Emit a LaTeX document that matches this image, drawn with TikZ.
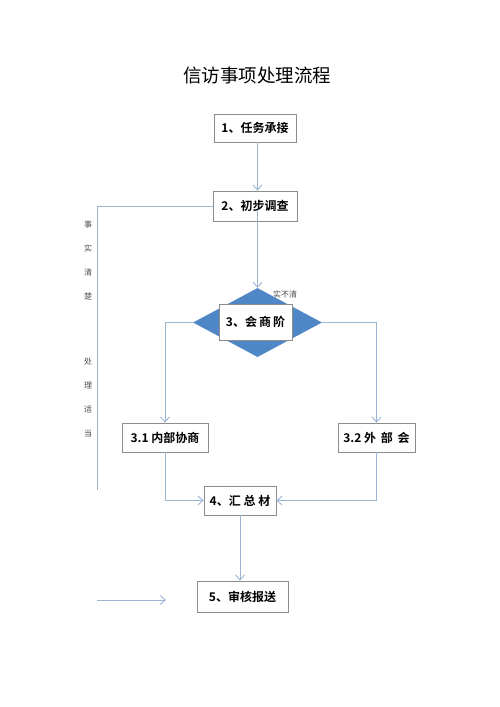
\documentclass[tikz,border=0pt]{standalone}
\usepackage{fontspec}
\setmainfont{Noto Sans CJK SC}[BoldFont={Noto Sans CJK SC Bold}]
\usetikzlibrary{arrows.meta,shapes.geometric}
\definecolor{lineblue}{HTML}{9CB6D2}
\definecolor{diablue}{HTML}{4E86C6}
\definecolor{boxgray}{HTML}{8C8C8C}
\tikzset{
  stepbox/.style={draw=boxgray, line width=0.8pt, fill=white, inner sep=0pt,
    font=\bfseries\fontsize{12}{14}\selectfont},
  flow/.style={draw=lineblue, line width=0.9pt},
  flowarr/.style={flow, -{Straight Barb[length=5pt,width=9pt]}},
  sidetext/.style={font=\fontsize{8}{24}\selectfont, text=black!70, align=center}
}
\begin{document}
\begin{tikzpicture}[x=1pt,y=-1pt]
  \fill[white] (0,0) rectangle (500,707);
  \useasboundingbox (0,0) rectangle (500,707);
  \node (title) at (257,75) {\fontsize{18.5}{20}\selectfont 信访事项处理流程};
  % boxes
  \node[stepbox, minimum width=82pt, minimum height=28pt] (n1) at (255,128) {1、任务承接};
  \node[stepbox, minimum width=84pt, minimum height=30pt] (n2) at (255,206) {2、初步调查};
  \node[font=\fontsize{8}{9}\selectfont, text=black!70] (lbl) at (285,294) {实不清};
  \node[diamond, fill=diablue, inner sep=0pt, aspect=1.87,
        minimum width=129pt, minimum height=69pt] (dia) at (257.5,322.5) {};
  \node[stepbox, minimum width=73pt, minimum height=36pt] (n3) at (255.5,322) {3、会\,商\,阶};
  \node[stepbox, minimum width=86pt, minimum height=29pt] (n31) at (165,437.5) {3.1 内部协商};
  \node[stepbox, minimum width=77pt, minimum height=29pt] (n32) at (376.5,437.5) {3.2 外\ \,部\ \,会};
  \node[stepbox, minimum width=72pt, minimum height=29pt] (n4) at (240,500.5) {4、汇\ 总\ 材};
  \node[stepbox, minimum width=91pt, minimum height=31pt] (n5) at (242.5,596.5) {5、审核报送\hspace{8pt}};
  % side notes
  \node[sidetext] (side1) at (88,260) {事\\实\\清\\楚};
  \node[sidetext] (side2) at (88,397) {处\\理\\适\\当};
  \coordinate (lb) at (97,490);
  \coordinate (fa) at (97,600);
  \coordinate (fb) at (166,600);
  % connectors
  \draw[flowarr] (n1.south -| dia.north) -- (n2.north -| dia.north);
  \draw[flowarr] ([yshift=11pt]n2.south -| dia.north) -- (dia.north);
  \draw[flow] (n2.west) -| (lb);
  \draw[flowarr] (dia.west) -| (n31.north);
  \draw[flowarr] (dia.east) -| (n32.north);
  \draw[flowarr] (n31.south) |- (n4.west);
  \draw[flowarr] (n32.south) |- (n4.east);
  \draw[flowarr] (n4) -- (n5.north -| n4.south);
  \draw[flowarr] (fa) -- (fb);
\end{tikzpicture}
\end{document}
